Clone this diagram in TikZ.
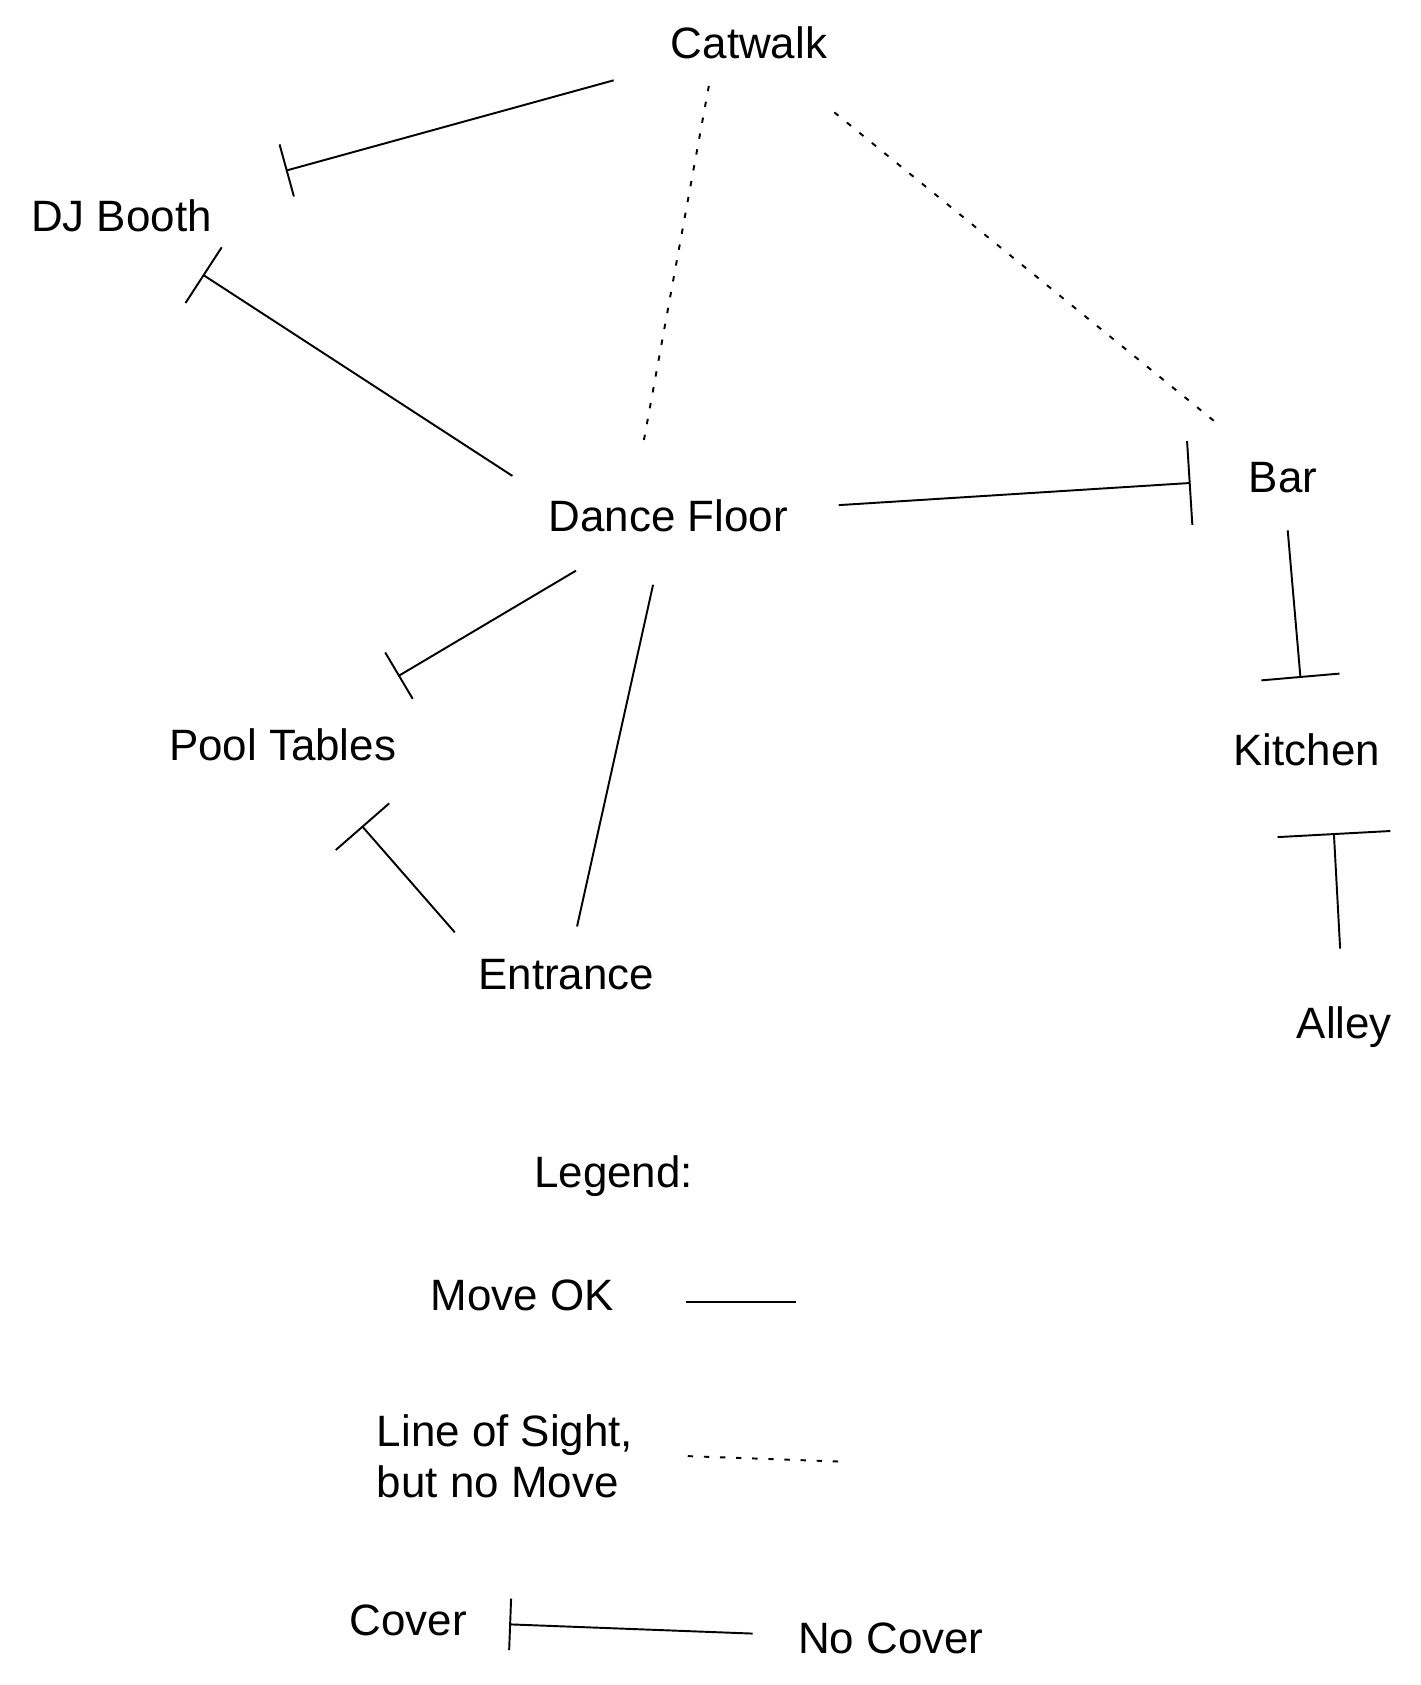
\documentclass[tikz,border=0pt]{standalone}
\usepackage{fontspec}
\setmainfont{Liberation Sans}
\usetikzlibrary{arrows.meta}
\newlength\unitpx
\setlength\unitpx{0.0215cm}
\newcommand\roomfont{\fontsize{25}{29}\selectfont}
\tikzset{
  room/.style={font=\roomfont, inner sep=0pt},
  move/.style={line width=1.1pt},
  sight/.style={line width=1.1pt, dash pattern=on 5\unitpx off 10\unitpx},
  cover/.style={-{Bar[width=#1]}},
}
\begin{document}
\begin{tikzpicture}[x=0.0215cm, y=-0.0215cm]
\useasboundingbox (0,0) rectangle (1322,1568);
% rooms
\node[room] (cat) at (697,40) {Catwalk};
\node[room] (dj) at (113,201) {DJ Booth};
\node[room] (df) at (622,480) {Dance Floor};
\node[room] (bar) at (1194,444) {Bar};
\node[room] (pool) at (263,693) {Pool Tables};
\node[room] (kit) at (1216,698) {Kitchen};
\node[room] (ent) at (527,907) {Entrance};
\node[room] (alley) at (1251,956) {Alley};
% moves
\draw[move, cover=1.08cm, shorten <=73\unitpx, shorten >=101\unitpx] (cat) -- (dj);
\draw[move, cover=1.33cm, shorten <=40\unitpx, shorten >=72\unitpx] (df.north west) -- (dj.-45);
\draw[move, cover=1.68cm, shorten <=47\unitpx, shorten >=54\unitpx] (df) -- (bar);
\draw[move, cover=1.08cm, shorten <=70\unitpx, shorten >=95\unitpx] (df) -- (pool);
\draw[move, shorten <=50\unitpx, shorten >=31\unitpx] (df) -- (ent);
\draw[move, cover=1.42cm, shorten <=33\unitpx, shorten >=80\unitpx] (ent.north west) -- (pool.-36);
\draw[move, cover=1.57cm, shorten <=35\unitpx, shorten >=52\unitpx] (bar) -- (kit);
\draw[move, cover=2.26cm, shorten <=54\unitpx, shorten >=62\unitpx] (alley.93) -- (kit.-35);
% line of sight
\draw[sight, shorten <=25\unitpx, shorten >=50\unitpx] (cat.205) -- (df.155);
\draw[sight, shorten <=78\unitpx, shorten >=56\unitpx] (cat) -- (bar);
% legend
\node[room] (legend) at (571,1094) {Legend:};
\node[room] (moveok) at (486,1205) {Move OK};
\node[room, align=left] (sightnomove) at (470,1355) {Line of Sight,\\but no Move};
\node[room] (cov) at (380,1508) {Cover};
\node[room] (nocov) at (829,1525) {No Cover};
\coordinate (okA) at (638,1212);
\coordinate (okB) at (741,1212);
\draw[move] (okA) -- (okB);
\coordinate (losA) at (640,1355);
\coordinate (losB) at (780,1360);
\draw[sight] (losA) -- (losB);
\draw[move, cover=1.03cm, shorten <=42\unitpx, shorten >=39\unitpx] (nocov) -- (cov);
\end{tikzpicture}
\end{document}
